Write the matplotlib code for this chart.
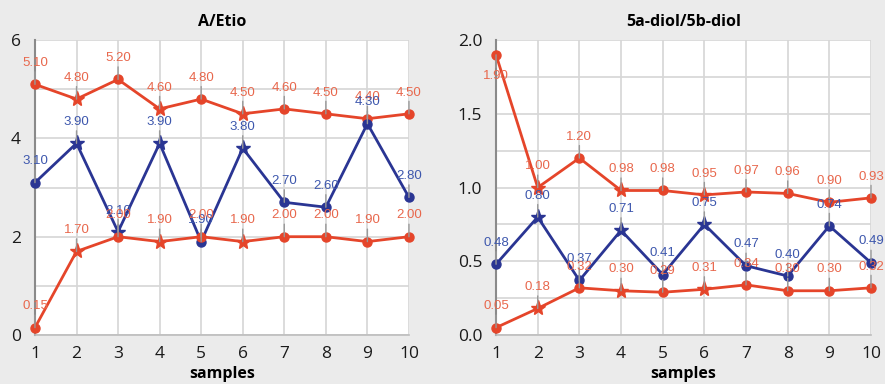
import matplotlib
matplotlib.use("Agg")
import matplotlib.pyplot as plt
import numpy as np

samples = np.arange(1, 11)

# A/Etio panel
etio_upper = [5.10, 4.80, 5.20, 4.60, 4.80, 4.50, 4.60, 4.50, 4.40, 4.50]
etio_mid = [3.10, 3.90, 2.10, 3.90, 1.90, 3.80, 2.70, 2.60, 4.30, 2.80]
etio_lower = [0.15, 1.70, 2.00, 1.90, 2.00, 1.90, 2.00, 2.00, 1.90, 2.00]
etio_upper_mk = ["o", "*", "o", "*", "o", "*", "o", "o", "o", "o"]
etio_mid_mk = ["o", "*", "*", "*", "o", "*", "o", "o", "o", "o"]
etio_lower_mk = ["o", "*", "o", "*", "o", "*", "o", "o", "o", "o"]

# 5a-diol/5b-diol panel
diol_upper = [1.90, 1.00, 1.20, 0.98, 0.98, 0.95, 0.97, 0.96, 0.90, 0.93]
diol_mid = [0.48, 0.80, 0.37, 0.71, 0.41, 0.75, 0.47, 0.40, 0.74, 0.49]
diol_lower = [0.05, 0.18, 0.32, 0.30, 0.29, 0.31, 0.34, 0.30, 0.30, 0.32]
diol_upper_mk = ["o", "*", "o", "*", "o", "*", "o", "o", "o", "o"]
diol_mid_mk = ["o", "*", "o", "*", "o", "*", "o", "o", "o", "o"]
diol_lower_mk = ["o", "*", "o", "*", "o", "*", "o", "o", "o", "o"]

RED = "#e5452a"
RED_TXT = "#e8674c"
BLUE = "#2a3593"
BLUE_TXT = "#3d57ad"
BG = "#ebebeb"

fig = plt.figure(figsize=(8.85, 3.84), dpi=100, facecolor=BG)


def draw_series(ax, y, markers, color, txtcolor, below=()):
    ax.plot(samples, y, color=color, lw=2.0, zorder=3, clip_on=False)
    for i, (x, v, m) in enumerate(zip(samples, y, markers)):
        ms = 11 if m == "*" else 6.5
        ax.plot([x], [v], marker=m, color=color, ms=ms, zorder=4,
                clip_on=False, mec=color)
        if i in below:
            offset, va = (0, -11), "top"
        else:
            offset, va = (0, 11), "bottom"
        ax.annotate(f"{v:.2f}", xy=(x, v), xytext=offset,
                    textcoords="offset points", ha="center", va=va,
                    color=txtcolor, fontsize=9.5, family="Liberation Sans",
                    zorder=5, annotation_clip=False,
                    arrowprops=dict(arrowstyle="-", color="#9a9a9a", lw=1.0,
                                    shrinkA=0, shrinkB=0))


def setup_axes(rect, title, ylim, major, minor, ticklabels):
    ax = fig.add_axes(rect)
    ax.set_facecolor("white")
    ax.set_xlim(1, 10)
    ax.set_ylim(*ylim)
    ax.set_xticks(samples)
    ax.set_yticks(major)
    ax.set_yticklabels(ticklabels)
    ax.set_yticks(minor, minor=True)
    ax.grid(True, which="both", color="#d6d6d6", lw=1.2, zorder=0)
    ax.set_axisbelow(True)
    for side in ("top", "right"):
        ax.spines[side].set_visible(False)
    ax.spines["left"].set_color("#8a8a8a")
    ax.spines["left"].set_linewidth(1.5)
    ax.spines["bottom"].set_color("#bdbdbd")
    ax.spines["bottom"].set_linewidth(1.2)
    ax.tick_params(axis="both", which="both", length=0, labelsize=12.5,
                   labelcolor="#1a1a1a")
    ax.tick_params(axis="x", pad=8)
    ax.tick_params(axis="y", pad=10)
    for t in ax.get_xticklabels() + ax.get_yticklabels():
        t.set_family("Open Sans")
    ax.set_title(title, fontsize=11.5, fontweight="bold", family="Open Sans",
                 pad=10)
    ax.set_xlabel("samples", fontsize=11.5, fontweight="bold",
                  family="Open Sans", labelpad=3)
    return ax


ax1 = setup_axes([0.0395, 0.1276, 0.4226, 0.768], "A/Etio", (0, 6),
                 [0, 2, 4, 6], [1, 3, 5], ["0", "2", "4", "6"])
draw_series(ax1, etio_upper, etio_upper_mk, RED, RED_TXT)
draw_series(ax1, etio_mid, etio_mid_mk, BLUE, BLUE_TXT)
draw_series(ax1, etio_lower, etio_lower_mk, RED, RED_TXT)

ax2 = setup_axes([0.5605, 0.1276, 0.4237, 0.768], "5a-diol/5b-diol", (0, 2),
                 [0, 0.5, 1.0, 1.5, 2.0], [0.25, 0.75, 1.25, 1.75],
                 ["0.0", "0.5", "1.0", "1.5", "2.0"])
draw_series(ax2, diol_upper, diol_upper_mk, RED, RED_TXT, below=(0,))
draw_series(ax2, diol_mid, diol_mid_mk, BLUE, BLUE_TXT)
draw_series(ax2, diol_lower, diol_lower_mk, RED, RED_TXT)

fig.savefig("out.png", dpi=100, facecolor=BG)
